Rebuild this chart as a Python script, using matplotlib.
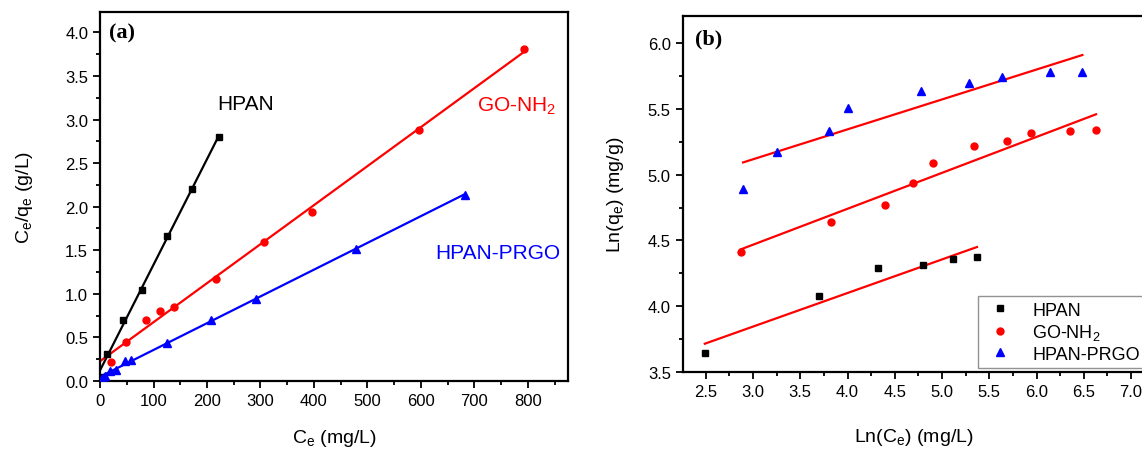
import matplotlib
matplotlib.use("Agg")
import matplotlib.pyplot as plt
import numpy as np
from matplotlib.ticker import MultipleLocator

plt.rcParams['font.family'] = ['Liberation Sans', 'DejaVu Sans']
plt.rcParams['mathtext.default'] = 'regular'

# (a) Langmuir: Ce vs Ce/qe
hpan_ce = [1, 13, 42, 78, 125, 172.6, 222]
hpan_cq = [0.05, 0.315, 0.70, 1.046, 1.667, 2.20, 2.80]
go_ce = [20, 48, 85, 113, 139, 217, 307, 397, 595.5, 792.5]
go_cq = [0.22, 0.45, 0.70, 0.805, 0.847, 1.17, 1.60, 1.94, 2.885, 3.805]
prgo_ce = [4, 10, 19, 29, 47, 58, 124.6, 207, 291, 478.5, 682]
prgo_cq = [0.03, 0.06, 0.11, 0.13, 0.226, 0.24, 0.44, 0.70, 0.94, 1.514, 2.14]

# (b) Freundlich: ln Ce vs ln qe
hpan_lnc = [2.49, 3.70, 4.32, 4.80, 5.12, 5.37]
hpan_lnq = [3.64, 4.08, 4.29, 4.315, 4.36, 4.37]
go_lnc = [2.87, 3.83, 4.40, 4.69, 4.90, 5.34, 5.69, 5.945, 6.35, 6.63]
go_lnq = [4.41, 4.64, 4.77, 4.935, 5.09, 5.22, 5.26, 5.32, 5.33, 5.34]
prgo_lnc = [2.895, 3.25, 3.806, 4.01, 4.78, 5.29, 5.64, 6.14, 6.485]
prgo_lnq = [4.89, 5.17, 5.33, 5.505, 5.637, 5.70, 5.746, 5.78, 5.78]

fig = plt.figure(figsize=(11.42, 4.52), dpi=100)
ax1 = fig.add_axes([0.0876, 0.1549, 0.4098, 0.8174])
ax2 = fig.add_axes([0.5978, 0.1754, 0.4050, 0.7876])


def fit_line(ax, x, y, color, x0=None):
    k, b = np.polyfit(x, y, 1)
    lo = min(x) if x0 is None else x0
    xx = np.array([lo, max(x)])
    ax.plot(xx, k * xx + b, color=color, lw=1.6, zorder=2)


# panel a
fit_line(ax1, hpan_ce, hpan_cq, 'black', 0)
fit_line(ax1, go_ce, go_cq, 'red', 0)
fit_line(ax1, prgo_ce, prgo_cq, 'blue', 0)
ax1.plot(hpan_ce, hpan_cq, 's', color='black', ms=4.5, zorder=3)
ax1.plot(go_ce, go_cq, 'o', color='red', ms=5, zorder=3)
ax1.plot(prgo_ce, prgo_cq, '^', color='blue', ms=5.5, zorder=3)

ax1.set_xlim(0, 875)
ax1.set_ylim(0, 4.24)
ax1.xaxis.set_major_locator(MultipleLocator(100))
ax1.xaxis.set_minor_locator(MultipleLocator(50))
ax1.yaxis.set_major_locator(MultipleLocator(0.5))
ax1.yaxis.set_minor_locator(MultipleLocator(0.25))
ax1.yaxis.set_major_formatter(plt.FormatStrFormatter('%.1f'))
ax1.set_xlabel('C$_e$ (mg/L)', fontsize=14, labelpad=14)
ax1.set_ylabel('C$_e$/q$_e$ (g/L)', fontsize=14, labelpad=22)
ax1.text(0.02, 0.944, '(a)', transform=ax1.transAxes, fontsize=16,
         fontweight='bold', family='Liberation Serif', va='center')
ax1.text(273, 3.18, 'HPAN', color='black', fontsize=15, ha='center', va='center')
ax1.text(778, 3.16, 'GO-NH$_2$', color='red', fontsize=15, ha='center', va='center')
ax1.text(744, 1.48, 'HPAN-PRGO', color='blue', fontsize=15, ha='center', va='center')

# panel b
fit_line(ax2, hpan_lnc, hpan_lnq, 'red')
fit_line(ax2, go_lnc, go_lnq, 'red')
fit_line(ax2, prgo_lnc, prgo_lnq, 'red')
ax2.plot(hpan_lnc, hpan_lnq, 's', color='black', ms=4.5, ls='none', label='HPAN', zorder=3)
ax2.plot(go_lnc, go_lnq, 'o', color='red', ms=5, ls='none', label='GO-NH$_2$', zorder=3)
ax2.plot(prgo_lnc, prgo_lnq, '^', color='blue', ms=5.5, ls='none', label='HPAN-PRGO', zorder=3)

ax2.set_xlim(2.256, 7.15)
ax2.set_ylim(3.5, 6.21)
ax2.xaxis.set_major_locator(MultipleLocator(0.5))
ax2.xaxis.set_minor_locator(MultipleLocator(0.25))
ax2.yaxis.set_major_locator(MultipleLocator(0.5))
ax2.yaxis.set_minor_locator(MultipleLocator(0.25))
ax2.xaxis.set_major_formatter(plt.FormatStrFormatter('%.1f'))
ax2.yaxis.set_major_formatter(plt.FormatStrFormatter('%.1f'))
ax2.set_xlabel('Ln(C$_e$) (mg/L)', fontsize=14, labelpad=20)
ax2.set_ylabel('Ln(q$_e$) (mg/g)', fontsize=14, labelpad=16)
ax2.text(0.027, 0.935, '(b)', transform=ax2.transAxes, fontsize=16,
         fontweight='bold', family='Liberation Serif', va='center')
leg = ax2.legend(loc='lower right', bbox_to_anchor=(1.0, 0.01), fontsize=13,
                 frameon=True, fancybox=False, edgecolor='#777777',
                 handletextpad=0.9, borderpad=0.3, labelspacing=0.2,
                 handlelength=1.8, borderaxespad=0)
leg.get_frame().set_linewidth(1.0)

for ax in (ax1, ax2):
    for s in ax.spines.values():
        s.set_linewidth(1.6)
    ax.tick_params(which='both', direction='out', top=False, right=False,
                   labelsize=12, width=1.3)
    ax.tick_params(which='major', length=5)
    ax.tick_params(which='minor', length=3)

fig.savefig('out.png', dpi=100)
